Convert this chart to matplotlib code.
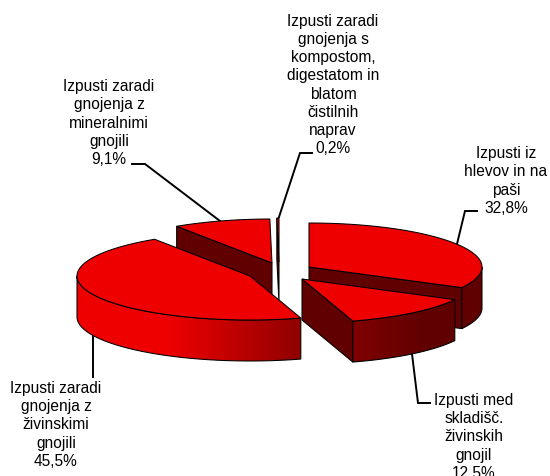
import numpy as np
import matplotlib
matplotlib.use('Agg')
import matplotlib.pyplot as plt

plt.rcParams['font.family'] = ['Liberation Sans', 'DejaVu Sans']

labels = ['Izpusti iz\nhlevov in na\npaši\n32,8%',
          'Izpusti med\nskladišč.\nživinskih\ngnojil\n12,5%',
          'Izpusti zaradi\ngnojenja z\nživinskimi\ngnojili\n45,5%',
          'Izpusti zaradi\ngnojenja z\nmineralnimi\ngnojili\n9,1%',
          'Izpusti zaradi\ngnojenja s\nkompostom,\ndigestatom in\nblatom\nčistilnih\nnaprav\n0,2%']
shares = [32.8, 12.5, 45.5, 9.1, 0.2]

# where each exploded slice sits, in pixels
centers = [(309, 268), (302, 280), (250, 277), (272, 264), (279, 263)]
label_pos = [(506, 181), (474, 437), (56, 425), (109, 123), (333, 85)]
leaders = [[(477, 212), (465, 212), (457, 245)],
           [(412, 355), (418, 404), (430, 404)],
           [(93, 337), (93, 378)],
           [(132, 165), (145, 165), (220, 222)],
           [(312, 154), (300, 154), (279, 218)]]
rx, ry, depth = 173, 44, 41
top_color = '#ee0000'
cut_color = '#600000'
edge_w = 0.75
draw_order = [4, 3, 0, 1, 2]

fig = plt.figure(figsize=(5.5, 4.77), dpi=100)
ax = fig.add_axes([0, 0, 1, 1])

# rim shading runs left to right over the whole pie
grad_x = np.arange(0, 551)
grad_r = np.interp(grad_x, [170, 300, 360, 425], [238, 144, 125, 96]) / 255
gradient = np.zeros((1, len(grad_x), 3))
gradient[0, :, 0] = grad_r

edges = np.cumsum([0] + shares) / sum(shares) * 360

for n, i in enumerate(draw_order):
    z = 10 + n
    cx, cy = centers[i]
    t = np.radians(np.linspace(edges[i], edges[i + 1], 200))
    xs = cx + rx * np.sin(t)
    ys = cy - ry * np.cos(t)

    # cut faces, only the ones turned to the viewer
    if xs[0] < cx:
        ax.fill([cx, xs[0], xs[0], cx], [cy, ys[0], ys[0] + depth, cy + depth],
                fc=cut_color, ec='black', lw=edge_w, zorder=z)
    if xs[-1] > cx:
        ax.fill([cx, xs[-1], xs[-1], cx], [cy, ys[-1], ys[-1] + depth, cy + depth],
                fc=cut_color, ec='black', lw=edge_w, zorder=z)

    # outer rim, front half of the ellipse only
    front = np.cos(t) <= 0
    if front.any():
        fx, fy = xs[front], ys[front]
        rim = ax.fill(np.r_[fx, fx[::-1]], np.r_[fy, fy[::-1] + depth],
                      fc='none', ec='black', lw=edge_w, zorder=z + 0.2)[0]
        img = ax.imshow(gradient, extent=(0, 550, 477, 0), aspect='auto', zorder=z + 0.1,
                        interpolation='bilinear')
        img.set_clip_path(rim)

    ax.fill(np.r_[cx, xs], np.r_[cy, ys], fc=top_color, ec='black', lw=edge_w, zorder=z + 0.3)

for pts in leaders:
    px, py = zip(*pts)
    ax.plot(px, py, c='black', lw=1.4, solid_joinstyle='miter', zorder=1)

for text, (x, y) in zip(labels, label_pos):
    ax.text(x, y, text, ha='center', va='center', fontsize=11.2, color='black',
            linespacing=1.26, zorder=30)

ax.set_xlim(0, 550)
ax.set_ylim(477, 0)
ax.axis('off')

fig.savefig('out.png', dpi=100)
